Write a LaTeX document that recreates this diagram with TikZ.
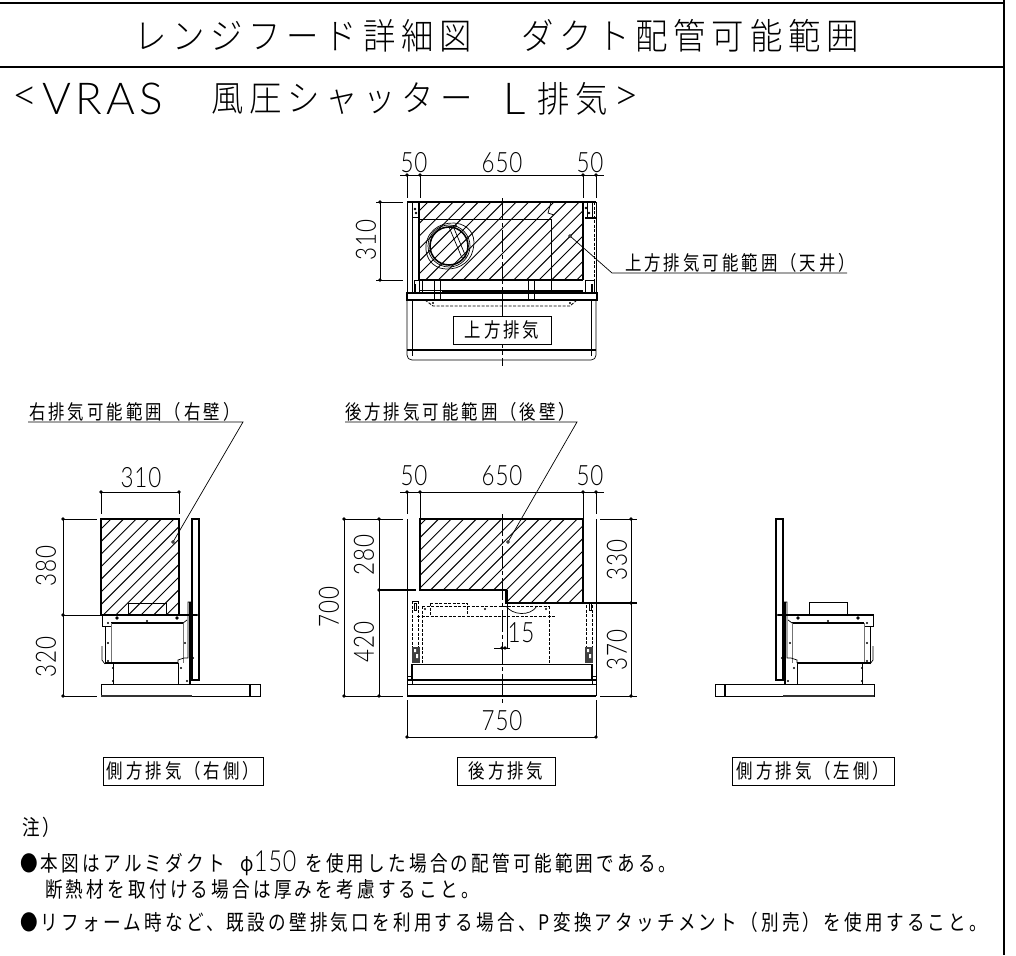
\documentclass[tikz,border=0pt]{standalone}
\usepackage{fontspec}
\setmainfont{Liberation Sans}
\newfontfamily\jpf[FakeStretch=0.82,LetterSpace=15]{Noto Sans CJK JP}
\newfontfamily\jpt[FakeStretch=0.90,LetterSpace=16]{Noto Sans CJK JP Light}
\newfontfamily\digf[FakeStretch=0.80,LetterSpace=3]{Lato Light}
\newfontfamily\digw[LetterSpace=10]{Lato Light}
\tikzset{
  thinl/.style={line width=0.7pt},
  hatchl/.style={line width=0.95pt},
  med/.style={line width=1.2pt},
  thick2/.style={line width=1.8pt},
  dsh/.style={line width=0.9pt,dash pattern=on 3pt off 1.5pt},
  cen/.style={line width=0.8pt,dash pattern=on 22pt off 3pt on 4pt off 3pt},
  dimnum/.style={inner sep=0pt,font=\digf\fontsize{28}{28}\selectfont},
  lab/.style={inner sep=0pt,anchor=west,font=\jpf\fontsize{20}{21}\selectfont},
  note/.style={inner sep=0pt,anchor=west,font=\jpf\fontsize{21.45}{24}\selectfont},
  titleb/.style={inner sep=0pt,anchor=west,font=\jpt\fontsize{36}{38}\selectfont},
  boxl/.style={draw,line width=1pt,inner sep=0pt,minimum height=28pt,fill=white,font=\jpf\fontsize{20}{22}\selectfont},
}
\newcommand{\dt}[2]{\fill (#1,#2) circle (1.9pt);}
\newcommand{\sm}[2]{\fill (#1,#2) circle (1.2pt);}
\newcommand{\hatchclip}[1]{\begin{scope}\clip #1;
  \foreach \c in {0,12.6,...,1400}{\draw[hatchl] (\c,0) -- (0,\c);}\end{scope}}
\newcommand{\sideview}{
  \draw[med] (192,519) rectangle (199,680);
  \draw[dsh] (199,519) -- (199,680);
  \draw[med] (101,615) -- (197,615);
  \draw[thinl] (102,615) -- (102,626) -- (111,626) -- (111,623);
  \draw[med] (111,623) -- (183,623);
  \draw[line width=0.9pt,black!55] (111,623) -- (111,663) (183,623) -- (183,663);
  \draw[med] (105,663) -- (178,663);
  \draw[thinl] (183,623) -- (187,620);
  \draw[thinl] (105,626) -- (105,664);
  \draw[thinl] (102,646) -- (102,660) -- (105,664);
  \draw[thinl] (113,663) -- (113,684) (178,663) -- (178,684);
  \draw[thinl] (178,663) -- (178,660) -- (184,658) -- (188,658) -- (188,602) -- (192,602);
  \draw[med] (190,602) -- (190,684);
  \draw[thinl] (101,684) -- (260,684) -- (260,696) -- (101,696) -- cycle;
  \draw[thick2,black!80] (101,696) -- (192,696);
  \draw[med] (250,684) -- (250,696);
  \foreach \p/\q in {117/618,177/618}{\dt{\p}{\q}}
  \foreach \p/\q in {147/621,108/623,108/643,108/661,113/668,113/681,181/668,187/681,185/643,193/658,197/615,191/606}{\sm{\p}{\q}}
}
\begin{document}
\begin{tikzpicture}[x=1pt,y=-1pt,line cap=butt]
\useasboundingbox (0,0) rectangle (1016,955);
% frame
\draw[thick2] (0,3) -- (1005,3);
\draw[thick2] (0,67) -- (1005,67);
\draw[thick2] (1004,0) -- (1004,955);
% titles
\node[titleb] (t1) at (134,36) {レンジフード詳細図};
\node[titleb] (t1b) at (521,36) {ダクト配管可能範囲};
\node[inner sep=0pt,anchor=west,font=\digw\fontsize{44}{44}\selectfont] (t2a) at (12,99) {<};
\node[inner sep=0pt,anchor=west,font=\digw\fontsize{44}{44}\selectfont] (t2b) at (42,99) {VRAS};
\node[titleb] (t2c) at (211,99) {風圧シャッター};
\node[inner sep=0pt,anchor=west,font=\digw\fontsize{44}{44}\selectfont] (t2d) at (503,99) {L};
\node[titleb] (t2e) at (537,99) {排気};
\node[inner sep=0pt,anchor=west,font=\digw\fontsize{44}{44}\selectfont] (t2f) at (613,99) {>};

%%%%% top view
\hatchclip{(419,202) rectangle (583,280)}
\draw[thinl] (419,219) -- (551,219) (551,219) -- (551,290);
\draw[med] (407,202) -- (596,202) (419,280) -- (583,280);
\draw[thick2] (419,202) -- (419,280) (583,202) -- (583,280);
\draw[thinl] (551,202) -- (548,213) -- (554,215);
\draw[thinl] (407,202) -- (407,293) (412,202) -- (412,293);
\draw[thinl] (596,202) -- (596,293);
\draw[dsh] (594,202) -- (594,293);
\draw[thinl] (412,202) rectangle (419,217) (587,202) rectangle (592,218);
\draw[med] (585,218) -- (596,218);
\draw[thinl] (414,280) rectangle (419,293) (585,280) rectangle (594,293);
\fill (415,209) circle (1.3) (416,213) circle (1.3) (586,208) circle (1.3) (589,213) circle (1.3);
\draw[line width=1.4pt] (415,284) -- (415,293) (592,284) -- (592,293);
\draw[thinl] (422,280) -- (422,292);
\draw[thinl] (434,280) -- (434,300) (440,280) -- (440,300) (528,280) -- (528,300) (534,280) -- (534,300);
\draw[med] (442,292) -- (583,292);
\draw[thinl] (419,290) -- (583,290);
\draw[med] (407,293) rectangle (597,300);
\draw[dsh] (425,300) -- (433,306) -- (570,306) -- (577,300);
\sm{433}{303}\sm{570}{303}
\draw[thinl] (407,300) -- (407,355) .. controls (407,358) and (409,360) .. (412,360) -- (591,360) .. controls (594,360) and (596,358) .. (596,355) -- (596,300);
\draw[thinl] (412,300) -- (412,356) (591,300) -- (591,356);
\draw[med] (407,350) -- (596,350);
\draw[cen] (502,198) -- (502,366);
% duct
\draw[line width=1.6pt] (449,246) circle (19);
\draw[thinl] (449,246) circle (21);
\draw[thinl] (426,245) .. controls (428,228) and (445,220) .. (460,224) .. controls (472,228) and (476,238) .. (473,250) .. controls (470,264) and (455,272) .. (440,268) .. controls (430,265) and (425,255) .. (426,245);
\draw[thinl] (449,227) -- (462,258) (453,226) -- (466,257);
\draw[thinl] (449,227) -- (453,226) (462,258) -- (466,257);
\sm{456}{226}
% box
\node[boxl,minimum width=98pt] (b1) at (502,330) {上方排気};
% dims top
\draw[thinl] (400,175) -- (604,175);
\draw[thinl] (407,175) -- (407,198) (420,175) -- (420,198) (583,175) -- (583,198) (596,175) -- (596,198);
\dt{407}{175}\dt{420}{175}\dt{583}{175}\dt{596}{175}
\node[dimnum] (n1) at (414,163) {50};
\node[dimnum] (n2) at (502,163) {650};
\node[dimnum] (n3) at (590,163) {50};
\draw[thinl] (376,202) -- (403,202) (376,280) -- (403,280) (380,202) -- (380,280);
\dt{380}{202}\dt{380}{280}
\node[dimnum,rotate=90] (n4) at (366,240) {310};
% leader top
\node[lab] (l1) at (625,263) {上方排気可能範囲（天井）};
\draw[thinl] (570,236) -- (612,273) -- (847,273);
\draw[thinl,fill=white] (570,236) circle (1.4);

%%%%% right-side view
\hatchclip{(101,519) rectangle (179,615)}
\draw[med] (101,519) rectangle (179,615);
\draw[thinl] (128,615) -- (128,603) -- (166,603) -- (166,615);
\sideview
\draw[thinl] (101,492) -- (179,492) (101,492) -- (101,514) (179,492) -- (179,514);
\dt{101}{492}\dt{179}{492}
\node[dimnum] (n5) at (141,478) {310};
\draw[thinl] (63,519) -- (97,519) (63,615) -- (101,615) (63,696) -- (97,696) (63,519) -- (63,696);
\dt{63}{519}\dt{63}{615}\dt{63}{696}
\node[dimnum,rotate=90] (n6) at (46,566) {380};
\node[dimnum,rotate=90] (n7) at (46,657) {320};
\node[lab] (l2) at (29,412) {右排気可能範囲（右壁）};
\draw[thinl] (173,542) -- (243,422) -- (28,422);
\draw[thinl,fill=white] (173,542) circle (1.4);
\node[boxl,minimum width=160pt] (b2) at (183,771) {側方排気（右側）};

%%%%% rear view
\hatchclip{(420,519) -- (583,519) -- (583,603) -- (506,603) -- (506,590) -- (420,590) -- cycle}
\draw[med] (420,519) -- (583,519) -- (583,603) -- (506,603) -- (506,590) -- (420,590) -- cycle;
\draw[thinl] (407,519) -- (407,696) (596,519) -- (596,696);
\draw[thinl] (407,684) -- (596,684);
\draw[thick2] (407,680) -- (596,680);
\draw[med] (407,696) -- (596,696);
\draw[thinl] (407,676) rectangle (412,684) (592,676) rectangle (596,684);
\draw[med] (412,664) -- (412,680) (592,664) -- (592,680);
\draw[thinl] (412,664) -- (592,664);
\draw[dsh] (422,606) -- (549,606) (549,606) -- (549,664) (422,606) -- (422,664) (422,664) -- (590,664);
\draw[dsh] (430,603) -- (467,603) -- (467,616) (430,603) -- (430,616);
\draw[dsh] (417,616) -- (555,616);
\draw[thinl] (506,606) .. controls (512,615) and (530,617) .. (537,606);
\draw[dsh] (412,601) -- (412,650) (418,601) -- (418,650) (592,605) -- (592,650) (586,605) -- (586,650);
\draw[thinl] (412,601) -- (418,601) (586,603) -- (593,603);
\draw[thinl] (414,603) rectangle (416,610) (589,603) rectangle (591,610);
\foreach \xx in {412,585}{\fill[black!75] (\xx,647) rectangle (\xx+8,663);\fill[white] (\xx+2,649) rectangle (\xx+4,652) (\xx+4,654) rectangle (\xx+6,658);}
\sm{425}{609}\sm{546}{609}\sm{485}{609}
\draw[cen] (502,514) -- (502,705);
\draw[thinl] (507,590) -- (507,648) (494,648) -- (510,648);
\dt{502}{648}\dt{505}{648}
\node[dimnum] (n8) at (521,633) {15};
\draw[thinl] (400,492) -- (604,492);
\draw[thinl] (407,492) -- (407,514) (420,492) -- (420,519) (583,492) -- (583,519) (596,492) -- (596,514);
\dt{407}{492}\dt{420}{492}\dt{583}{492}\dt{596}{492}
\node[dimnum] (n9) at (414,476) {50};
\node[dimnum] (n10) at (502,476) {650};
\node[dimnum] (n11) at (590,476) {50};
\draw[thinl] (344,519) -- (403,519) (344,696) -- (403,696) (344,519) -- (344,696) (379,519) -- (379,696);
\draw[med] (379,590) -- (416,590);
\draw[thinl] (600,519) -- (637,519) (600,696) -- (637,696) (631,519) -- (631,696);
\draw[med] (583,603) -- (637,603);
\dt{344}{519}\dt{344}{696}\dt{379}{519}\dt{379}{590}\dt{379}{696}\dt{631}{519}\dt{631}{603}\dt{631}{696}
\node[dimnum,rotate=90] (n12) at (329,607) {700};
\node[dimnum,rotate=90] (n13) at (364,555) {280};
\node[dimnum,rotate=90] (n14) at (364,642) {420};
\node[dimnum,rotate=90] (n15) at (617,560) {330};
\node[dimnum,rotate=90] (n16) at (617,650) {370};
\draw[thinl] (407,700) -- (407,737) (596,700) -- (596,737) (407,737) -- (596,737);
\dt{407}{737}\dt{596}{737}
\node[dimnum] (n17) at (502,721) {750};
\node[lab] (l3) at (345,412) {後方排気可能範囲（後壁）};
\draw[thinl] (508,542) -- (577,422) -- (345,422);
\draw[thinl,fill=white] (508,542) circle (1.4);
\node[boxl,minimum width=98pt] (b3) at (506,771) {後方排気};

%%%%% left-side view
\begin{scope}[shift={(975,0)},xscale=-1]
  \sideview
  \draw[thinl] (128,616) -- (128,602) -- (166,602) -- (166,616);
\end{scope}
\node[boxl,minimum width=162pt] (b4) at (813,771) {側方排気（左側）};

%%%%% notes
\node[note] (m0) at (22,827) {注）};
\node[note] (m1) at (20,863) {●本図はアルミダクト\hspace{16pt}φ{\digf\fontsize{29}{29}\selectfont 150}\hspace{9pt}を使用した場合の配管可能範囲である。};
\node[note] (m2) at (45,889) {断熱材を取付ける場合は厚みを考慮すること。};
\node[note] (m3) at (20,922) {●リフォーム時など、既設の壁排気口を利用する場合、P変換アタッチメント（別売）を使用すること。};
\end{tikzpicture}
\end{document}
